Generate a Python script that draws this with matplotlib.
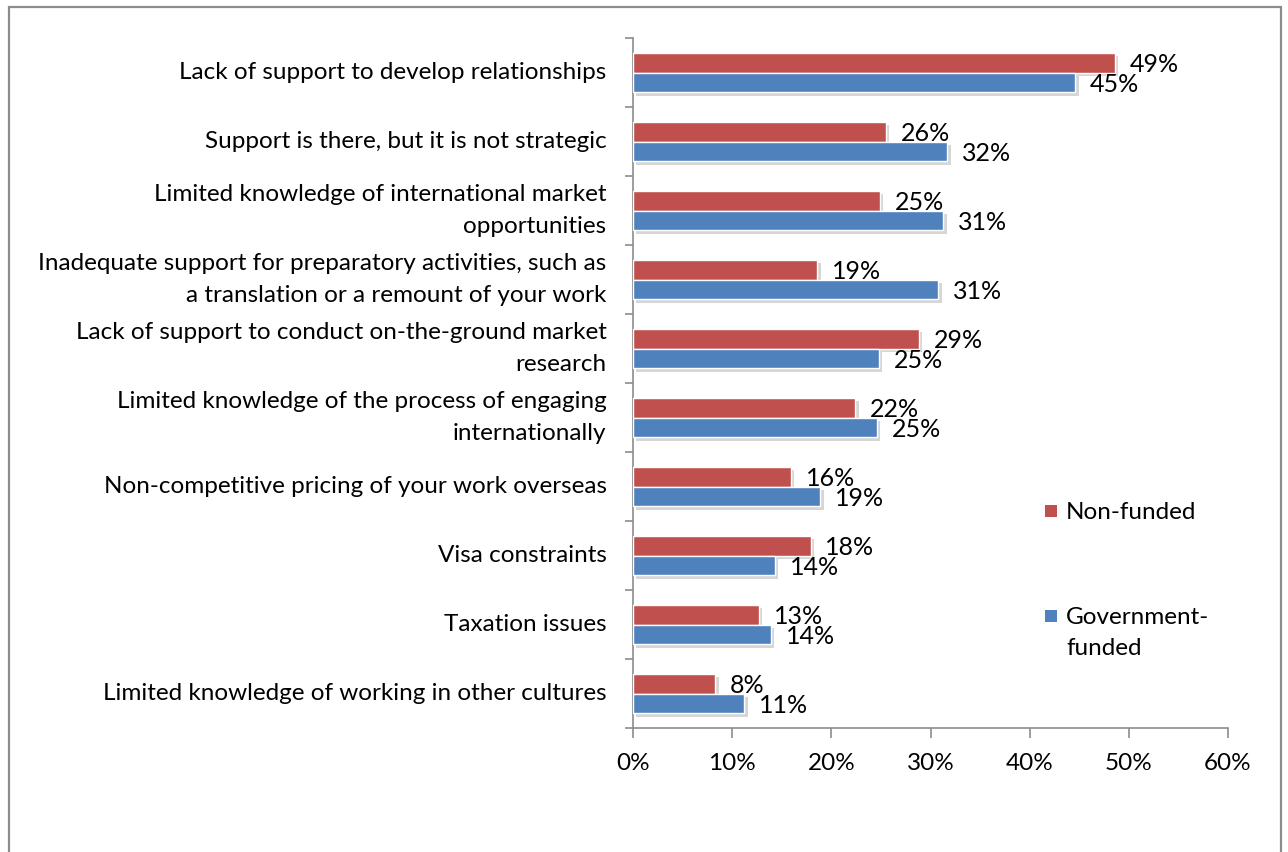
import numpy as np
import matplotlib.pyplot as plt
import matplotlib.patheffects as pe
from matplotlib.patches import Rectangle
from matplotlib.ticker import FuncFormatter, MultipleLocator

plt.rcParams['font.family'] = ['Lato', 'DejaVu Sans']

categories = [
    "Lack of support to develop relationships",
    "Support is there, but it is not strategic",
    "Limited knowledge of international market\nopportunities",
    "Inadequate support for preparatory activities, such as\na translation or a remount of your work",
    "Lack of support to conduct on-the-ground market\nresearch",
    "Limited knowledge of the process of engaging\ninternationally",
    "Non-competitive pricing of your work overseas",
    "Visa constraints",
    "Taxation issues",
    "Limited knowledge of working in other cultures",
]
non_funded = [48.6, 25.5, 24.9, 18.6, 28.8, 22.4, 15.9, 17.9, 12.7, 8.3]
gov_funded = [44.6, 31.7, 31.3, 30.8, 24.8, 24.6, 18.9, 14.3, 13.9, 11.2]
series_names = ["Non-funded", "Government-\nfunded"]
colors = ["#C0504D", "#4F81BD"]

W, H = 1288, 852
fig = plt.figure(figsize=(W / 100, H / 100), dpi=100)
ax = fig.add_axes([633 / W, 1 - 728 / H, (1228 - 633) / W, (728 - 38) / H])

# outer chart frame (open at the bottom)
fig.patches.append(Rectangle((9 / W, -0.05), (1281 - 9) / W, 1 - 7 / H + 0.05,
                             transform=fig.transFigure, fill=False,
                             edgecolor="#8c8c8c", linewidth=1.6))

y = np.arange(len(categories))
h = 0.285
shadow = [pe.SimplePatchShadow(offset=(2.5, -2.5), shadow_rgbFace="#9a9a9a", alpha=0.4),
          pe.Normal()]

for vals, off, col in [(non_funded, -h / 2, colors[0]), (gov_funded, h / 2, colors[1])]:
    bars = ax.barh(y + off, vals, height=h, color=col, edgecolor="white",
                   linewidth=1.0, zorder=3)
    for b in bars:
        b.set_path_effects(shadow)
    for yi, v in zip(y + off, vals):
        ax.text(v + 1.5, yi + 0.03, f"{v:.0f}%", va="center", ha="left",
                fontsize=18, color="black", zorder=4)

ax.set_xlim(0, 60)
ax.set_ylim(len(categories) - 0.5, -0.5)
ax.xaxis.set_major_locator(MultipleLocator(10))
ax.xaxis.set_major_formatter(FuncFormatter(lambda v, p: f"{v:.0f}%"))
ax.set_yticks(y)
ax.set_yticklabels(categories, fontsize=17.5, linespacing=1.7)
for lbl in ax.get_yticklabels():
    lbl.set_verticalalignment("center")
ax.set_yticks(np.arange(-0.5, len(categories)), minor=True)
ax.tick_params(axis="y", which="major", length=0, pad=19)
ax.tick_params(axis="y", which="minor", length=6, width=1.2, color="#8c8c8c")
ax.tick_params(axis="x", length=7, width=1.2, color="#8c8c8c", labelsize=17.5, pad=11)

for s in ["top", "right"]:
    ax.spines[s].set_visible(False)
for s in ["left", "bottom"]:
    ax.spines[s].set_color("#8c8c8c")
    ax.spines[s].set_linewidth(1.2)

# legend: square marker + label, entries spaced apart on the right
legend_rows = [511, 616]
for name, col, ry in zip(series_names, colors, legend_rows):
    fig.patches.append(Rectangle((1045 / W, 1 - (ry + 6) / H), 12 / W, 12 / H,
                                 transform=fig.transFigure, facecolor=col,
                                 edgecolor="none"))
    fig.text(1066 / W, 1 - (ry - 9) / H, name, ha="left", va="top",
             fontsize=17.5, linespacing=1.6)

fig.savefig("out.png", dpi=100)
